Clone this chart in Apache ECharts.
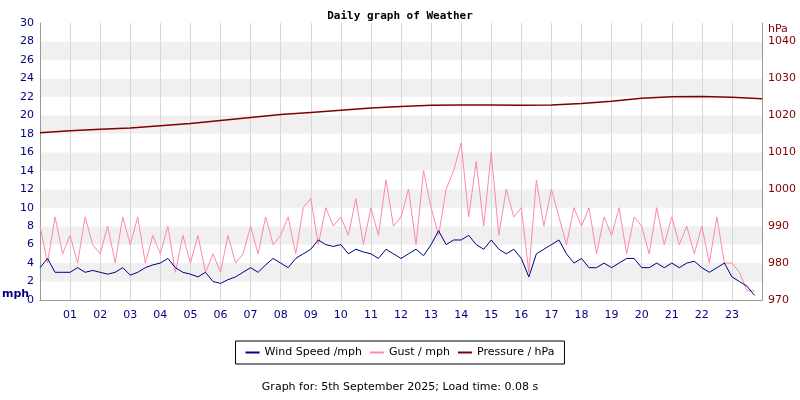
<!DOCTYPE html>
<html><head><meta charset="utf-8">
<script src="https://cdn.jsdelivr.net/npm/echarts@6/dist/echarts.min.js"></script>
<style>html,body{margin:0;padding:0;background:#fff}#c{width:800px;height:400px}</style>
</head><body><div id="c"></div>
<script>
const hourLabels = ['01','02','03','04','05','06','07','08','09','10','11','12','13','14','15','16','17','18','19','20','21','22','23'];
// 15-minute samples
const windSpeed = [3.5,4.5,3,3, 3,3.5,3,3.2, 3,2.8,3,3.5, 2.7,3,3.5,3.8, 4,4.5,3.5,3, 2.8,2.5,3,2, 1.8,2.2,2.5,3, 3.5,3,3.8,4.5,
 4,3.5,4.5,5, 5.5,6.5,6,5.8, 6,5,5.5,5.2, 5,4.5,5.5,5, 4.5,5,5.5,4.8, 6,7.5,6,6.5, 6.5,7,6,5.5, 6.5,5.5,5,5.5,
 4.5,2.5,5,5.5, 6,6.5,5,4, 4.5,3.5,3.5,4, 3.5,4,4.5,4.5, 3.5,3.5,4,3.5, 4,3.5,4,4.2, 3.5,3,3.5,4, 2.5,2,1.5,0.5];
const gust = [8,4,9,5, 7,4,9,6, 5,8,4,9, 6,9,4,7, 5,8,3,7, 4,7,3,5, 3,7,4,5, 8,5,9,6,
 7,9,5,10, 11,6,10,8, 9,7,11,6, 10,7,13,8, 9,12,6,14, 10,7,12,14, 17,9,15,8, 16,7,12,9,
 10,3,13,8, 12,9,6,10, 8,10,5,9, 7,10,5,9, 8,5,10,6, 9,6,8,5, 8,4,9,4, 4,3,1,1];
// hourly pressure 00..24
const pressure = [1015.3,1015.8,1016.2,1016.6,1017.2,1017.8,1018.6,1019.4,1020.2,1020.8,1021.4,1022,1022.4,1022.7,1022.8,1022.8,1022.7,1022.8,1023.2,1023.8,1024.6,1025,1025.1,1024.9,1024.5];

const step = 0.25;
const windData = windSpeed.map((v,i)=>[i*step,v]);
const gustData = gust.map((v,i)=>[i*step,v]);
const presData = pressure.map((v,i)=>[i,v]);

const chart = echarts.init(document.getElementById('c'));
chart.setOption({
  backgroundColor:'#fff',
  animation:false,
  title:{text:'Daily graph of Weather',left:'center',top:6,textStyle:{fontFamily:'DejaVu Sans Mono',fontSize:11,fontWeight:'bold',color:'#000'}},
  grid:{left:40,right:38,top:23,bottom:100},
  legend:{bottom:36,left:'center',itemWidth:14,itemHeight:2,borderColor:'#000',borderWidth:1,padding:[6,10],
    textStyle:{fontFamily:'DejaVu Sans',fontSize:11,color:'#000'},
    data:[{name:'Wind Speed /mph',icon:'rect'},{name:'Gust / mph',icon:'rect'},{name:'Pressure / hPa',icon:'rect'}]},
  graphic:[
    {type:'text',left:'center',top:382,style:{text:'Graph for: 5th September 2025; Load time: 0.08 s',font:'11px DejaVu Sans',fill:'#000'}},
    {type:'text',left:2,top:289,style:{text:'mph',font:'bold 11px DejaVu Sans',fill:'#000080'}},
    {type:'text',left:768,top:24,style:{text:'hPa',font:'11px DejaVu Sans',fill:'#800000'}}
  ],
  xAxis:{type:'value',min:0,max:24,interval:1,
    axisLine:{lineStyle:{color:'#999'}},axisTick:{show:false},
    axisLabel:{fontFamily:'DejaVu Sans',fontSize:11,color:'#000080',margin:10,
      formatter:v=>(v>=1&&v<=23)?hourLabels[v-1]:''},
    splitLine:{show:true,lineStyle:{color:'#d8d8d8'}}},
  yAxis:[
    {type:'value',min:0,max:30,interval:2,
      axisLine:{show:true,lineStyle:{color:'#999'}},axisTick:{show:false},
      axisLabel:{fontFamily:'DejaVu Sans',fontSize:11,color:'#000080',margin:6},
      splitLine:{show:false},
      splitArea:{show:true,areaStyle:{color:['#ffffff','#f0f0f0']}}},
    {type:'value',min:970,max:1045,interval:10,
      axisLine:{show:true,lineStyle:{color:'#999'}},axisTick:{show:false},
      axisLabel:{fontFamily:'DejaVu Sans',fontSize:11,color:'#800000',margin:6,showMaxLabel:false,formatter:v=>String(v)},
      splitLine:{show:false}}
  ],
  series:[
    {name:'Gust / mph',type:'line',data:gustData,symbol:'none',lineStyle:{color:'#ff88aa',width:1},itemStyle:{color:'#ff88aa'},z:2},
    {name:'Wind Speed /mph',type:'line',data:windData,symbol:'none',lineStyle:{color:'#000080',width:1},itemStyle:{color:'#000080'},z:3},
    {name:'Pressure / hPa',type:'line',yAxisIndex:1,data:presData,symbol:'none',lineStyle:{color:'#800000',width:1.5},itemStyle:{color:'#800000'},z:4}
  ]
});
</script></body></html>
